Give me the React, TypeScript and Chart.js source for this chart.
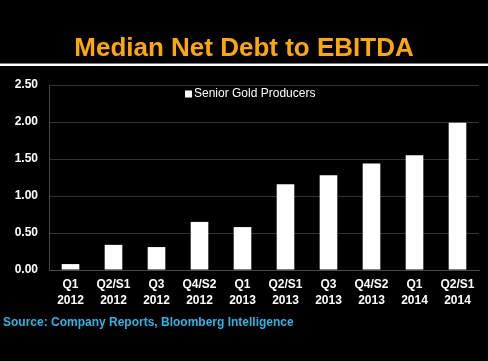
import React, { useEffect, useRef } from "react";
import { Chart, registerables } from "chart.js";

Chart.register(...registerables);

const categories: string[][] = [
  ["Q1", "2012"], ["Q2/S1", "2012"], ["Q3", "2012"], ["Q4/S2", "2012"],
  ["Q1", "2013"], ["Q2/S1", "2013"], ["Q3", "2013"], ["Q4/S2", "2013"],
  ["Q1", "2014"], ["Q2/S1", "2014"],
];
const seniorGoldProducers = [0.08, 0.34, 0.31, 0.65, 0.58, 1.16, 1.28, 1.44, 1.55, 1.99];
const seriesLabel = "Senior Gold Producers";
const titleText = "Median Net Debt to EBITDA";
const sourceText = "Source: Company Reports, Bloomberg Intelligence";
const yTicks = [0, 0.5, 1, 1.5, 2, 2.5];

const FONT = "'Liberation Sans', Arial, sans-serif";

const extras = {
  id: "extras",
  afterDraw(chart: any) {
    const ctx = chart.ctx as CanvasRenderingContext2D;
    const area = chart.chartArea;
    ctx.save();
    // title
    ctx.fillStyle = "#FFA800";
    ctx.font = `bold 26px ${FONT}`;
    ctx.textAlign = "center";
    ctx.textBaseline = "alphabetic";
    ctx.fillText(titleText, chart.width / 2, 56);
    // separator line
    ctx.fillStyle = "#777777";
    ctx.fillRect(0, 63, chart.width, 1);
    ctx.fillStyle = "#ffffff";
    ctx.fillRect(0, 64, chart.width, 2);
    // legend
    const lx = 185;
    const ly = 94;
    ctx.fillStyle = "#ffffff";
    ctx.fillRect(lx, ly - 3.5, 7, 7);
    ctx.font = `12px ${FONT}`;
    ctx.textAlign = "left";
    ctx.textBaseline = "middle";
    ctx.fillText(seriesLabel, lx + 9, ly);
    // source
    ctx.fillStyle = "#29B6E6";
    ctx.font = `bold 12px ${FONT}`;
    ctx.textBaseline = "middle";
    ctx.fillText(sourceText, 3, 323);
    ctx.restore();
  },
};

export default function App() {
  const ref = useRef<HTMLCanvasElement>(null);
  useEffect(() => {
    document.body.style.margin = "0";
    document.body.style.background = "#000";
    const chart = new Chart(ref.current!, {
      type: "bar",
      data: {
        labels: categories,
        datasets: [
          {
            label: seriesLabel,
            data: seniorGoldProducers,
            backgroundColor: "#ffffff",
            borderWidth: 0,
            categoryPercentage: 1,
            barPercentage: 0.41,
          },
        ],
      },
      options: {
        animation: false,
        responsive: false,
        maintainAspectRatio: false,
        layout: { padding: { top: 85, right: 9, left: 0, bottom: 0 } },
        plugins: {
          legend: { display: false },
          title: { display: false },
          tooltip: { enabled: false },
        },
        scales: {
          x: {
            afterFit: (s: any) => { s.height = 91; },
            grid: { display: false, drawTicks: false },
            border: { display: true, color: "#4a4a4a", width: 1 },
            ticks: {
              color: "#ffffff",
              font: { family: FONT, size: 12, weight: "bold", lineHeight: 1.333 },
              padding: 7,
              maxRotation: 0,
              autoSkip: false,
            },
          },
          y: {
            min: 0,
            max: 2.5,
            afterFit: (s: any) => { s.width = 49; },
            afterBuildTicks: (s: any) => { s.ticks = yTicks.map((v) => ({ value: v })); },
            grid: { color: "#333333", drawTicks: false, lineWidth: 1 },
            border: { display: true, color: "#4a4a4a", width: 1 },
            ticks: {
              color: "#ffffff",
              font: { family: FONT, size: 12, weight: "bold" },
              padding: 11,
              callback: (v: any) => Number(v).toFixed(2),
            },
          },
        },
      },
      plugins: [extras],
    });
    return () => chart.destroy();
  }, []);
  return (
    <div style={{ width: 488, height: 361, background: "#000" }}>
      <canvas ref={ref} width={488} height={361} style={{ display: "block" }} />
    </div>
  );
}
